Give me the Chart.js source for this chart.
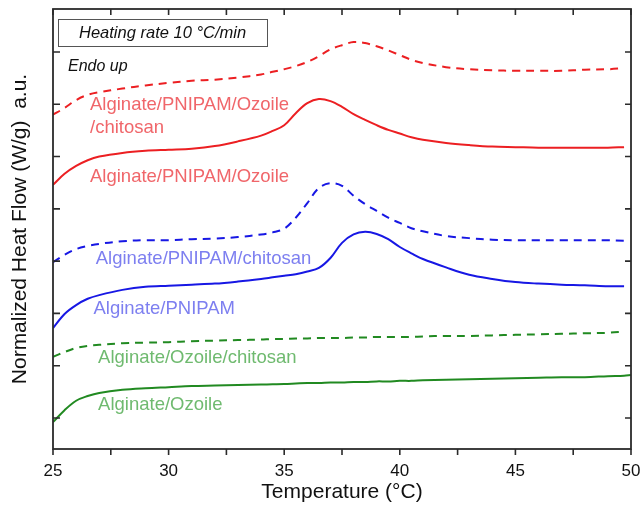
<!DOCTYPE html>
<html>
<head>
<meta charset="utf-8">
<script src="https://cdn.jsdelivr.net/npm/chart.js@4/dist/chart.umd.min.js"></script>
<style>
  body { margin: 0; background: #fff; }
  #wrap { width: 641px; height: 508px; }
</style>
</head>
<body>
<div id="wrap"><canvas id="dsc" width="641" height="508"></canvas></div>
<script>
const temps = [25, 25.5, 26, 26.5, 27, 28, 29, 30, 31, 32, 33, 34, 34.5, 35, 35.5, 36, 36.5, 37, 37.5, 38, 38.5, 39, 39.5, 40, 40.5, 41, 42, 43, 44, 45, 46, 47, 48, 49, 49.7, 50]

// heat flow, a.u. (curves are offset for clarity)
const apoChitosan = [5.80, 5.93, 6.08, 6.18, 6.23, 6.30, 6.36, 6.41, 6.45, 6.47, 6.51, 6.57, 6.62, 6.67, 6.73, 6.81, 6.92, 7.05, 7.13, 7.19, 7.17, 7.11, 7.03, 6.94, 6.85, 6.79, 6.71, 6.67, 6.65, 6.64, 6.64, 6.64, 6.66, 6.67, 6.69, null]
const apo = [4.46, 4.67, 4.82, 4.93, 5.00, 5.07, 5.11, 5.13, 5.15, 5.20, 5.29, 5.40, 5.49, 5.60, 5.83, 6.02, 6.10, 6.06, 5.95, 5.81, 5.70, 5.60, 5.51, 5.44, 5.37, 5.32, 5.26, 5.22, 5.19, 5.18, 5.17, 5.17, 5.17, 5.17, 5.18, null]
const apChitosan = [2.98, 3.12, 3.23, 3.29, 3.33, 3.38, 3.40, 3.40, 3.42, 3.43, 3.46, 3.51, 3.55, 3.62, 3.83, 4.11, 4.40, 4.49, 4.44, 4.25, 4.09, 3.96, 3.83, 3.73, 3.63, 3.57, 3.48, 3.44, 3.41, 3.40, 3.40, 3.40, 3.40, 3.40, 3.39, null]
const ap = [1.72, 1.99, 2.16, 2.28, 2.35, 2.45, 2.51, 2.53, 2.55, 2.57, 2.61, 2.66, 2.69, 2.72, 2.75, 2.80, 2.87, 3.06, 3.35, 3.51, 3.56, 3.52, 3.42, 3.27, 3.15, 3.04, 2.88, 2.74, 2.66, 2.60, 2.57, 2.55, 2.54, 2.52, 2.52, null]
const aoChitosan = [1.17, 1.26, 1.34, 1.38, 1.40, 1.43, 1.44, 1.45, 1.47, 1.48, 1.49, 1.50, 1.51, 1.51, 1.52, 1.52, 1.53, 1.53, 1.53, 1.54, 1.54, 1.55, 1.55, 1.55, 1.55, 1.56, 1.57, 1.57, 1.58, 1.59, 1.60, 1.61, 1.62, 1.63, 1.65, null]
const ao = [-0.08, 0.15, 0.33, 0.42, 0.48, 0.54, 0.57, 0.59, 0.61, 0.62, 0.63, 0.64, 0.645, 0.65, 0.66, 0.67, 0.67, 0.68, 0.68, 0.69, 0.69, 0.70, 0.70, 0.71, 0.71, 0.72, 0.73, 0.74, 0.75, 0.76, 0.77, 0.78, 0.78, 0.80, 0.81, 0.82]

const xTicks = [25, 30, 35, 40, 45, 50]
const yTicks = [0, 1, 2, 3, 4, 5, 6, 7]

const RED = '#ec1f22'
const BLUE = '#1717e4'
const GREEN = '#218a21'

// labels next to the curves, anchored in data units (°C, a.u.)
const notes = [
  { text: 'Alginate/PNIPAM/Ozoile', t: 26.6, v: 5.99, color: '#f0666a' },
  { text: '/chitosan', t: 26.6, v: 5.55, color: '#f0666a' },
  { text: 'Alginate/PNIPAM/Ozoile', t: 26.6, v: 4.61, color: '#f0666a' },
  { text: 'Alginate/PNIPAM/chitosan', t: 26.85, v: 3.04, color: '#7d7ff0' },
  { text: 'Alginate/PNIPAM', t: 26.75, v: 2.08, color: '#7d7ff0' },
  { text: 'Alginate/Ozoile/chitosan', t: 26.95, v: 1.15, color: '#6fba6f' },
  { text: 'Alginate/Ozoile', t: 26.95, v: 0.25, color: '#6fba6f' },
]

function series(label, values, color, dashed) {
  return {
    label,
    data: temps.map((t, i) => ({ x: t, y: values[i] })),
    borderColor: color,
    borderWidth: 2,
    borderDash: dashed ? [8, 6] : [],
    pointRadius: 0,
    tension: 0.35,
    fill: false,
  }
}

const frame = {
  id: 'frame',
  afterDraw(chart) {
    const { ctx, chartArea: a, scales } = chart
    const x = scales.x
    const y = scales.y
    ctx.save()
    ctx.strokeStyle = '#2b2b2b'
    ctx.lineWidth = 1.6
    ctx.beginPath()
    for (let t = 25; t <= 50; t += 2.5) {
      const px = x.getPixelForValue(t)
      ctx.moveTo(px, a.bottom); ctx.lineTo(px, a.bottom + 6)
      ctx.moveTo(px, a.top); ctx.lineTo(px, a.top + 6)
    }
    yTicks.forEach(v => {
      const py = y.getPixelForValue(v)
      ctx.moveTo(a.left, py); ctx.lineTo(a.left + 7, py)
      ctx.moveTo(a.right, py); ctx.lineTo(a.right - 6, py)
    })
    ctx.stroke()
    ctx.lineWidth = 1.8
    ctx.strokeRect(a.left, a.top, a.right - a.left, a.bottom - a.top)

    // note box
    ctx.lineWidth = 1
    ctx.strokeStyle = '#555'
    ctx.strokeRect(58.5, 19.5, 209, 27)
    ctx.fillStyle = '#111'
    ctx.textBaseline = 'middle'
    ctx.font = 'italic 16.5px "Liberation Sans", Arial, sans-serif'
    ctx.fillText('Heating rate 10 °C/min', 79, 33)
    ctx.font = 'italic 16px "Liberation Sans", Arial, sans-serif'
    ctx.fillText('Endo up', 68, 67)

    ctx.font = '18.5px "Liberation Sans", Arial, sans-serif'
    notes.forEach(n => {
      ctx.fillStyle = n.color
      ctx.fillText(n.text, x.getPixelForValue(n.t), y.getPixelForValue(n.v))
    })
    ctx.restore()
  }
}

new Chart(document.getElementById('dsc'), {
  type: 'line',
  data: {
    datasets: [
      series('Alginate/PNIPAM/Ozoile/chitosan', apoChitosan, RED, true),
      series('Alginate/PNIPAM/Ozoile', apo, RED, false),
      series('Alginate/PNIPAM/chitosan', apChitosan, BLUE, true),
      series('Alginate/PNIPAM', ap, BLUE, false),
      series('Alginate/Ozoile/chitosan', aoChitosan, GREEN, true),
      series('Alginate/Ozoile', ao, GREEN, false),
    ],
  },
  options: {
    responsive: false,
    animation: false,
    layout: { padding: { left: 0, top: 9, right: 10, bottom: 0 } },
    plugins: { legend: { display: false }, tooltip: { enabled: false } },
    scales: {
      x: {
        type: 'linear',
        min: 25,
        max: 50,
        afterBuildTicks: s => { s.ticks = xTicks.map(v => ({ value: v })) },
        afterFit: s => {
          s.height = 59
          s.paddingLeft = 0
          s.paddingRight = 0
        },
        grid: { display: false, drawTicks: false },
        border: { display: false },
        ticks: { padding: 12, color: '#111', font: { family: '"Liberation Sans", Arial', size: 17 } },
        title: {
          display: true,
          text: 'Temperature (°C)',
          color: '#111',
          padding: { top: 0, bottom: 3 },
          font: { family: '"Liberation Sans", Arial', size: 21 },
        },
      },
      y: {
        min: -0.593,
        max: 7.822,
        afterBuildTicks: s => { s.ticks = yTicks.map(v => ({ value: v })) },
        afterFit: s => {
          s.width = 53
          s.paddingTop = 0
          s.paddingBottom = 0
        },
        grid: { display: false, drawTicks: false },
        border: { display: false },
        ticks: { display: false },
        title: {
          display: true,
          text: 'Normalized Heat Flow (W/g)  a.u.',
          color: '#111',
          padding: { top: 8, bottom: 0 },
          font: { family: '"Liberation Sans", Arial', size: 21 },
        },
      },
    },
  },
  plugins: [frame],
})
</script>
</body>
</html>
